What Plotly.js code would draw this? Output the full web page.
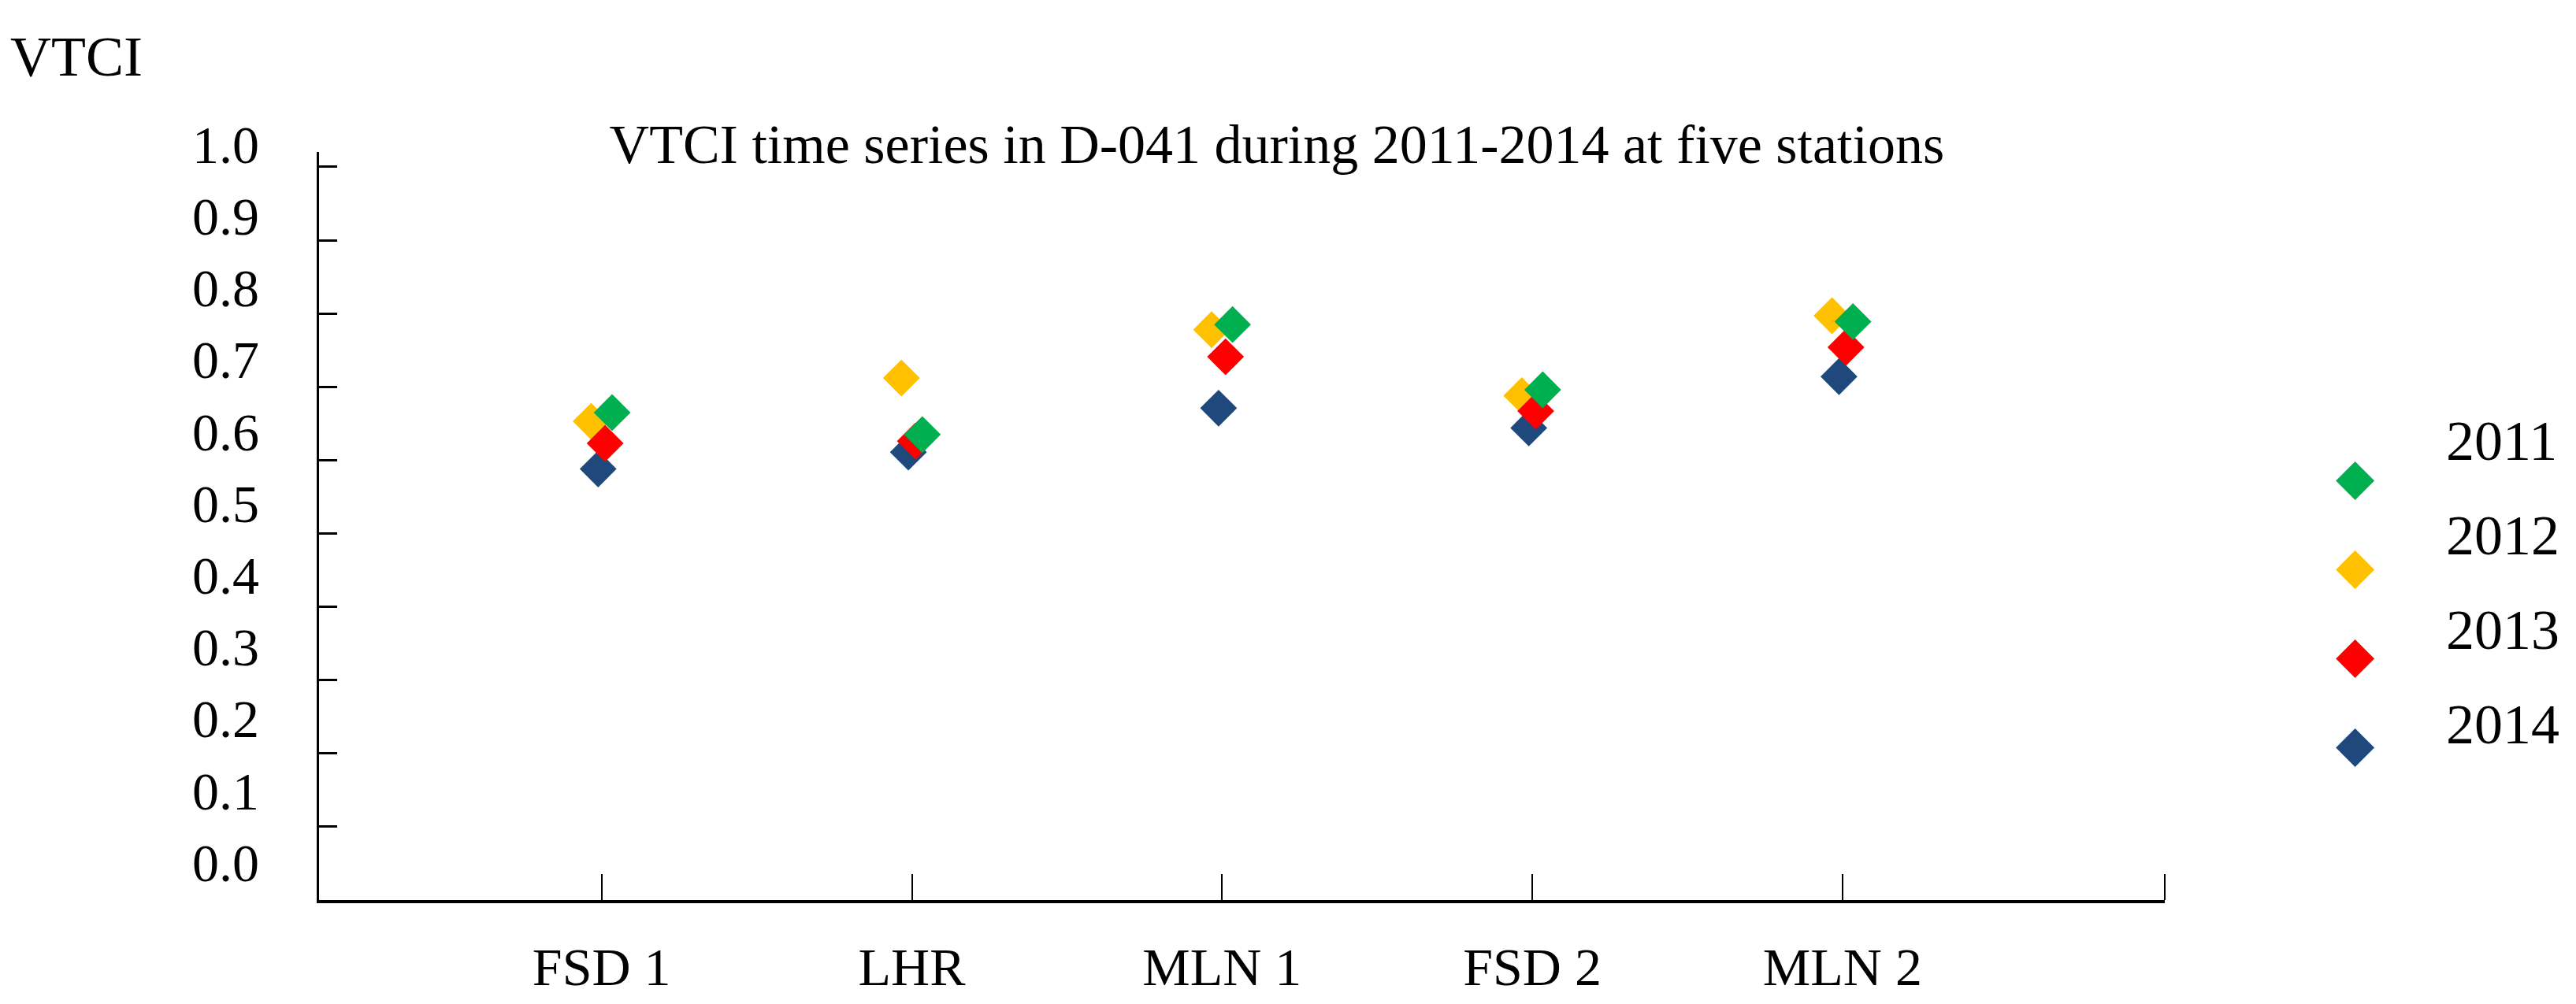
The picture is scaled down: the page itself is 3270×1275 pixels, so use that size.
<!DOCTYPE html>
<html>
<head>
<meta charset="utf-8">
<script src="https://cdn.plot.ly/plotly-3.0.1.min.js"></script>
<style>html,body{margin:0;padding:0;background:#fff;}#chart{width:3270px;height:1275px;}</style>
</head>
<body>
<div id="chart"></div>
<script>
// ---- data ----
const stations = ['FSD 1', 'LHR', 'MLN 1', 'FSD 2', 'MLN 2'];
const years = ['2011', '2012', '2013', '2014'];
const vtci2011 = [0.665, 0.635, 0.785, 0.696, 0.789];
const vtci2012 = [0.653, 0.712, 0.778, 0.688, 0.797];
const vtci2013 = [0.623, 0.626, 0.741, 0.667, 0.754];
const vtci2014 = [0.588, 0.611, 0.671, 0.644, 0.714];
const yTickVals = [0, 0.1, 0.2, 0.3, 0.4, 0.5, 0.6, 0.7, 0.8, 0.9, 1.0];
const yTickText = ['0.0', '0.1', '0.2', '0.3', '0.4', '0.5', '0.6', '0.7', '0.8', '0.9', '1.0'];
const titleText = 'VTCI time series in D-041 during 2011-2014 at five stations';
const yLabel = 'VTCI';

// ---- style ----
const FONT = 'Liberation Serif, Times New Roman, serif';
const colors = {'2011': '#00B050', '2012': '#FFC000', '2013': '#FF0000', '2014': '#1F497D'};
const seriesByYear = {'2011': vtci2011, '2012': vtci2012, '2013': vtci2013, '2014': vtci2014};
// drawing / grouping order (left to right within each station)
const drawOrder = ['2012', '2014', '2013', '2011'];

const traces = [];
// invisible helper trace so the tick-label axis (y2) gets drawn
traces.push({
  type: 'scatter', mode: 'markers', name: 'labels',
  x: stations, y: vtci2011, xaxis: 'x2', yaxis: 'y2',
  marker: {opacity: 0, size: 1}, hoverinfo: 'skip', showlegend: false
});
drawOrder.forEach(yr => traces.push({
  type: 'scatter',
  mode: 'markers',
  name: yr,
  x: stations,
  y: seriesByYear[yr],
  xaxis: 'x',
  yaxis: 'y',
  marker: {symbol: 'diamond', size: 36, color: colors[yr], line: {width: 0}},
  hoverinfo: 'x+y+name'
}));

// manual legend with large diamonds
const annotations = [];
annotations.push({
  text: yLabel, xref: 'paper', yref: 'paper', x: -0.1682, y: 1.0785,
  xanchor: 'left', yanchor: 'middle', showarrow: false,
  font: {family: FONT, size: 72, color: '#000'}
});
years.forEach((yr, i) => {
  const my = (1143 - (605 + i * 113)) / 993;
  const ty = (1143 - (560 + i * 120)) / 993;
  annotations.push({
    text: '\u25C6', xref: 'paper', yref: 'paper', x: 1.1033, y: my,
    xanchor: 'center', yanchor: 'middle', showarrow: false,
    font: {family: 'DejaVu Sans', size: 64, color: colors[yr]}
  });
  annotations.push({
    text: yr, xref: 'paper', yref: 'paper', x: 1.1515, y: ty,
    xanchor: 'left', yanchor: 'middle', showarrow: false,
    font: {family: FONT, size: 72, color: '#000'}
  });
});

const layout = {
  width: 3270, height: 1275,
  paper_bgcolor: '#fff', plot_bgcolor: 'rgba(0,0,0,0)',
  margin: {l: 405, r: 522, t: 150, b: 132, pad: 0},
  showlegend: false,
  scattermode: 'group',
  scattergap: 0.91,
  font: {family: FONT, size: 68, color: '#000'},
  title: {
    text: titleText, xref: 'container', yref: 'container',
    x: 0.4957, y: 0.857, xanchor: 'center', yanchor: 'middle',
    font: {family: FONT, size: 70, color: '#000'}
  },
  xaxis: {
    type: 'category', categoryorder: 'array', categoryarray: stations,
    range: [-0.911, 5.039],
    showline: true, linecolor: '#000', linewidth: 4,
    ticks: 'inside', ticklen: 33, tickwidth: 2, tickcolor: '#000',
    showgrid: false, zeroline: false,
    tickfont: {family: FONT, size: 68, color: '#000'},
    ticklabelstandoff: 22
  },
  xaxis2: {
    type: 'category', categoryorder: 'array', categoryarray: stations,
    overlaying: 'x', anchor: 'y2', range: [-0.911, 5.039], visible: false
  },
  yaxis: {
    domain: [0, 0.9567], range: [0, 1.0204],
    tickmode: 'array', tickvals: yTickVals, showticklabels: false,
    ticks: 'inside', ticklen: 23, tickwidth: 3, tickcolor: '#000',
    showline: true, linecolor: '#000', linewidth: 3,
    showgrid: false, zeroline: false
  },
  yaxis2: {
    domain: [0, 1], anchor: 'x2', side: 'left',
    range: [-0.0526, 1.0362],
    tickmode: 'array', tickvals: yTickVals, ticktext: yTickText,
    ticks: '', showline: false, showgrid: false, zeroline: false,
    tickfont: {family: FONT, size: 68, color: '#000'},
    ticklabelstandoff: 75
  },
  shapes: [{
    type: 'line', xref: 'paper', yref: 'paper', x0: 1, x1: 1, y0: 0, y1: 0.0332,
    line: {color: '#000', width: 2}
  }],
  annotations: annotations
};

Plotly.newPlot('chart', traces, layout, {displayModeBar: false, staticPlot: true});
</script>
</body>
</html>
